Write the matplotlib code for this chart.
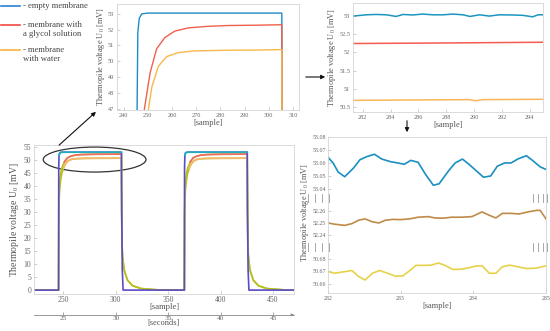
import numpy as np
import matplotlib.pyplot as plt
from matplotlib.patches import Ellipse, FancyArrowPatch

plt.rcParams['font.family'] = ['Liberation Serif', 'DejaVu Serif']
plt.rcParams['mathtext.fontset'] = 'stix'

# whole record, two heating pulses  [sample] -> [mV]
blue_x = [222, 245.4, 245.6, 245.9, 246.5, 247.5, 250, 305.4, 305.7, 306.2, 307,
          365.4, 365.6, 365.9, 366.5, 367.5, 370, 425.4, 425.7, 426.2, 427, 470]
blue_y = [0, 0, 47, 51.8, 52.7, 52.98, 53.03, 53.03, 30, 8, 0,
          0, 47, 51.8, 52.7, 52.98, 53.03, 53.03, 30, 8, 0, 0]

red_x = [222, 245.5, 245.7, 246, 246.5, 247.5, 248.6, 251.0, 253.7, 257.1, 261.2, 266.7,
         274.9, 283, 295, 305.4, 305.6, 306, 306.5, 308, 311.2, 316, 324, 340, 360,
         365.5, 365.7, 366, 366.5, 367.5, 368.6, 371.0, 373.7, 377.1, 381.2, 386.7,
         394.9, 403, 415, 425.4, 425.6, 426, 426.5, 428, 431.2, 436, 444, 460, 470]
red_y = [0, 0, 30, 38, 41.5, 45, 47, 49.3, 50.8, 51.5, 51.9, 52.1,
         52.2, 52.25, 52.27, 52.3, 30, 17, 13, 7.7, 3.8, 1.7, 0.6, 0.1, 0,
         0, 30, 38, 41.5, 45, 47, 49.3, 50.8, 51.5, 51.9, 52.1,
         52.2, 52.25, 52.27, 52.3, 30, 17, 13, 7.7, 3.8, 1.7, 0.6, 0.1, 0]

yel_x = [222, 245.5, 245.7, 246, 246.5, 247.5, 248.5, 250.3, 251.7, 254.4, 257.8, 262.6,
         269.5, 283.2, 295, 305.4, 305.6, 306, 306.5, 308, 311.2, 316, 324, 340, 360,
         365.5, 365.7, 366, 366.5, 367.5, 368.5, 370.3, 371.7, 374.4, 377.8, 382.6,
         389.5, 403.2, 415, 425.4, 425.6, 426, 426.5, 428, 431.2, 436, 444, 460, 470]
yel_y = [0, 0, 28, 35, 39, 42.5, 44.8, 47, 48.4, 49.7, 50.3, 50.55,
         50.66, 50.7, 50.71, 50.74, 30, 17, 13, 7.7, 3.8, 1.7, 0.6, 0.1, 0,
         0, 28, 35, 39, 42.5, 44.8, 47, 48.4, 49.7, 50.3, 50.55,
         50.66, 50.7, 50.71, 50.74, 30, 17, 13, 7.7, 3.8, 1.7, 0.6, 0.1, 0]

# plateau detail (top right)
pa_x = [281.3, 282.25, 282.96, 283.7, 284.4, 284.9, 285.6, 286.3, 287.04, 287.76, 288.5,
        289.2, 289.7, 290.4, 291.1, 291.8, 292.8, 293.5, 294.2, 294.6, 295.0]
pa_blue = [53.0, 53.035, 53.045, 53.035, 52.99, 53.045, 53.03, 53.055, 53.035, 53.035, 53.055,
           53.035, 52.99, 53.035, 53.0, 53.035, 53.03, 53.02, 52.98, 53.035, 53.035]
pa_red_x = [281.3, 288, 295]
pa_red = [52.245, 52.26, 52.28]
pa_yel_x = [281.3, 285, 289.6, 290.1, 290.6, 295]
pa_yel = [50.68, 50.69, 50.70, 50.67, 50.70, 50.71]

# fine detail, samples 282..285 (bottom right)
fb_x = [282.0, 282.07, 282.14, 282.23, 282.35, 282.44, 282.54, 282.64, 282.74, 282.86, 282.96,
        283.05, 283.14, 283.24, 283.34, 283.45, 283.53, 283.66, 283.75, 283.85, 283.94, 284.04,
        284.14, 284.24, 284.33, 284.43, 284.52, 284.61, 284.73, 284.82, 284.92, 285.0]
fb_blue = [53.0644, 53.06, 53.053, 53.0494, 53.056, 53.0625, 53.065, 53.0667, 53.063, 53.061, 53.06,
           53.059, 53.062, 53.0605, 53.0514, 53.0428, 53.044, 53.054, 53.06, 53.063, 53.059, 53.054,
           53.049, 53.050, 53.0575, 53.06, 53.06, 53.063, 53.0656, 53.0617, 53.057, 53.055]
fr_x = [282.0, 282.09, 282.23, 282.33, 282.42, 282.51, 282.61, 282.70, 282.79, 282.89, 283.0,
        283.12, 283.24, 283.38, 283.47, 283.59, 283.70, 283.84, 283.98, 284.12, 284.22, 284.31,
        284.40, 284.52, 284.63, 284.75, 284.87, 284.92, 285.0]
fr_red = [52.25, 52.249, 52.248, 52.2495, 52.2523, 52.2534, 52.251, 52.25, 52.2523, 52.253, 52.2528,
          52.2534, 52.2548, 52.2553, 52.2542, 52.254, 52.2548, 52.2548, 52.2553, 52.2592, 52.2564, 52.2542,
          52.258, 52.258, 52.2575, 52.2592, 52.2605, 52.2605, 52.2534]
fy_x = [282.0, 282.09, 282.21, 282.33, 282.42, 282.51, 282.61, 282.71, 282.82, 282.93, 283.03,
        283.12, 283.21, 283.33, 283.42, 283.52, 283.61, 283.72, 283.84, 283.94, 284.03, 284.12,
        284.22, 284.31, 284.40, 284.50, 284.61, 284.73, 284.87, 285.0]
fy_yel = [50.67, 50.6686, 50.6697, 50.6708, 50.666, 50.6632, 50.6686, 50.6708, 50.6686, 50.6662, 50.6665,
          50.6705, 50.6749, 50.6749, 50.6751, 50.6768, 50.6749, 50.6716, 50.6719, 50.673, 50.6743, 50.6746,
          50.6686, 50.6686, 50.6738, 50.6751, 50.6738, 50.6724, 50.6727, 50.6746]

legend_labels = ['- empty membrane', '- membrane with\na glycol solution', '- membrane\nwith water']
legend_colors = ['#2b7fd0', '#f04a3c', '#f9b33a']

ylab = r'Thermopile voltage U$_0$ [mV]'
TXT = '#555555'

W, H = 550, 331
fig = plt.figure(figsize=(5.5, 3.31), dpi=100)


def box(l, t, r, b):
    return [l / W, 1 - b / H, (r - l) / W, (b - t) / H]


def style(ax, fs=4.5):
    for s in ax.spines.values():
        s.set_color('#d4d4d4')
        s.set_linewidth(0.6)
    ax.tick_params(direction='in', length=2, width=0.5, color='#bbbbbb',
                   labelsize=fs, labelcolor='#666666', pad=2)


# ---- top middle: first pulse, zoomed on plateau
ax1 = fig.add_axes(box(117, 4, 299, 110))
ax1.plot(blue_x, blue_y, color='#1f8cc4', lw=1.0)
ax1.plot(red_x, red_y, color='#f0604c', lw=1.0)
ax1.plot(yel_x, yel_y, color='#f7b84a', lw=1.0)
ax1.set_xlim(237.3, 312.5)
ax1.set_ylim(46.95, 53.6)
ax1.set_xticks(range(240, 311, 10))
ax1.set_yticks(range(47, 54))
style(ax1, 4.5)
ax1.set_xlabel('[sample]', fontsize=6, color=TXT, labelpad=1)
ax1.set_ylabel(ylab, fontsize=6, color=TXT, labelpad=1)

# ---- top right: plateau detail
ax2 = fig.add_axes(box(353, 3, 543, 112))
ax2.plot(pa_x, pa_blue, color='#1a96c0', lw=1.1)
ax2.plot(pa_red_x, pa_red, color='#f55b50', lw=1.1)
ax2.plot(pa_yel_x, pa_yel, color='#fbb55a', lw=1.1)
ax2.set_xlim(281.3, 294.95)
ax2.set_ylim(50.36, 53.36)
ax2.set_xticks(range(282, 295, 2))
ax2.set_yticks([50.5, 51, 51.5, 52, 52.5, 53])
ax2.set_yticklabels(['50.5', '51', '51.5', '52', '52.5', '53'])
style(ax2, 4.5)
ax2.set_xlabel('[sample]', fontsize=6, color=TXT, labelpad=1)
ax2.set_ylabel(ylab, fontsize=6, color=TXT, labelpad=1)

# ---- bottom left: full record
ax3 = fig.add_axes(box(34, 145, 294, 294))
ax3.plot(red_x, red_y, color='#b8c020', lw=1.2)
ax3.plot(red_x, np.where(np.array(red_y) > 47, red_y, np.nan), color='#f06a66', lw=1.2)
ax3.plot(yel_x, yel_y, color='#b8c020', lw=1.2)
ax3.plot(yel_x, np.where(np.array(yel_y) > 46, yel_y, np.nan), color='#f8b870', lw=1.2)
ax3.plot(blue_x, blue_y, color='#5a4cc8', lw=1.2)
ax3.plot(blue_x, np.where(np.array(blue_y) > 50, blue_y, np.nan), color='#1eaebc', lw=1.2)
ax3.set_xlim(222, 470)
ax3.set_ylim(-1.5, 55.8)
ax3.set_xticks([250, 300, 350, 400, 450])
ax3.set_yticks(range(0, 56, 5))
style(ax3, 5.5)
ax3.tick_params(axis='x', pad=1.5)
ax3.set_xlabel('[sample]', fontsize=6.2, color=TXT, labelpad=-0.5)
ax3.set_ylabel(ylab, fontsize=7, color=TXT, labelpad=2)
ax3.add_patch(Ellipse((279.8, 50.2), 98, 9.6, fill=False, ec='#333333', lw=0.9, clip_on=False))

sec = ax3.secondary_xaxis(-0.14, functions=(lambda s: s / 10, lambda t: t * 10))
sec.set_xticks([25, 30, 35, 40, 45])
sec.spines['bottom'].set_color('#888888')
sec.spines['bottom'].set_linewidth(0.6)
sec.tick_params(direction='in', length=2, width=0.5, color='#888888',
                labelsize=5.2, labelcolor='#666666', pad=0.5)
sec.set_xlabel('[seconds]', fontsize=6, color=TXT, labelpad=-1)
ax3.annotate('', xy=(1.0, -0.14), xytext=(0.98, -0.14), xycoords='axes fraction',
             arrowprops=dict(arrowstyle='-|>', color='#888888', lw=0.5, mutation_scale=4))

# ---- bottom right: broken axis, samples 282..285
segs = [(137, 198, (53.033, 53.08), [53.04, 53.05, 53.06, 53.07, 53.08], fb_x, fb_blue, '#1a8fc0'),
        (198, 247, (52.23, 52.2708), [52.24, 52.25, 52.26], fr_x, fr_red, '#c08a48'),
        (247, 293, (50.6528, 50.6896), [50.66, 50.67, 50.68], fy_x, fy_yel, '#e6d24a')]
axs = []
for i, (t, b, yl, yt, xs, ys, c) in enumerate(segs):
    a = fig.add_axes(box(328, t, 546, b))
    a.plot(xs, ys, color=c, lw=1.2)
    a.set_xlim(282, 285)
    a.set_ylim(*yl)
    a.set_yticks(yt)
    a.set_yticklabels(['%.2f' % v for v in yt])
    a.set_xticks([282, 283, 284, 285])
    style(a, 4.3)
    a.tick_params(axis='y', pad=1.5)
    if i > 0:
        a.spines['top'].set_visible(False)
    if i < 2:
        a.spines['bottom'].set_visible(False)
        a.tick_params(axis='x', bottom=False, labelbottom=False)
    axs.append(a)
axs[2].set_xlabel('[sample]', fontsize=6, color=TXT, labelpad=1)
fig.text(305 / W, 1 - 213 / H, ylab, rotation=90, fontsize=6, color=TXT, ha='center', va='center')

# axis-break marks
for yy in (198, 247):
    for xx in (308, 315, 322, 329, 533, 538, 543, 547):
        fig.add_artist(plt.Line2D([xx / W] * 2, [1 - (yy - 4) / H, 1 - (yy + 4) / H],
                                  color='#999999', lw=0.6))

# ---- legend, top left
for (yy, lab, c) in zip([6, 25, 50], legend_labels, legend_colors):
    fig.add_artist(plt.Line2D([1 / W, 20 / W], [1 - yy / H] * 2, color=c, lw=1.2))
    fig.text(23 / W, 1 - (yy - 4) / H, lab, fontsize=6.2, color='#444444', va='top', linespacing=1.1)

# ---- arrows between panels
for p, q in [((57, 147), (98, 110)), ((303, 77), (328, 77)), ((407, 118), (407, 135))]:
    fig.add_artist(FancyArrowPatch((p[0] / W, 1 - p[1] / H), (q[0] / W, 1 - q[1] / H),
                                   transform=fig.transFigure, arrowstyle='-|>',
                                   mutation_scale=6, lw=0.8, color='#111111'))

fig.savefig('out.png', dpi=100)
